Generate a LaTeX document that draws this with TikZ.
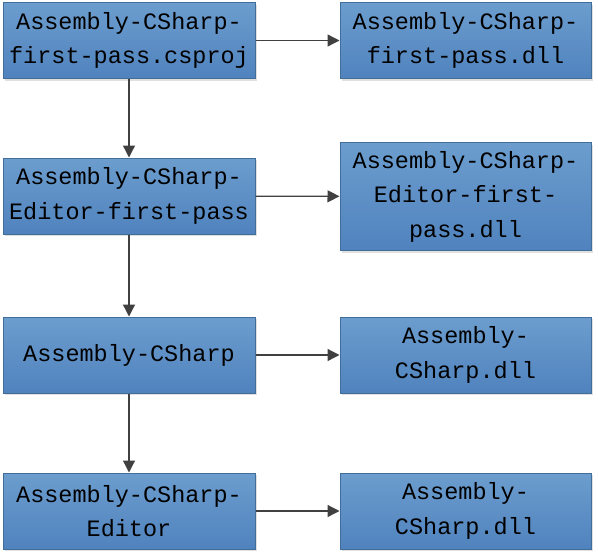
\documentclass[tikz,border=0pt]{standalone}
\usepackage{fontspec}
\setmonofont{Liberation Mono}
\usetikzlibrary{arrows.meta,shadows}
\definecolor{boxtop}{RGB}{108,157,206}
\definecolor{boxbot}{RGB}{80,131,190}
\definecolor{boxline}{RGB}{65,110,152}
\definecolor{arrowc}{RGB}{64,64,64}
\tikzset{
	proj/.style={draw=boxline, line width=1pt, top color=boxtop, bottom color=boxbot,
		drop shadow={shadow xshift=2pt, shadow yshift=-2pt, fill=black!12, opacity=1},
		minimum width=252pt, minimum height=76pt, inner sep=0pt, align=center,
		font=\ttfamily\fontsize{23.5}{34.5}\selectfont},
	dll/.style={proj, minimum width=251pt},
	flow/.style={draw=arrowc, line width=1.3pt, -{Triangle[length=12pt,width=12pt]}},
}
\begin{document}
\begin{tikzpicture}[x=1pt,y=1pt]
	\useasboundingbox (0,0) rectangle (598,-555);

	\node [proj] (fp) at (129,-40.5) {Assembly-CSharp-\\first-pass.csproj};
	\node [proj] (efp) at (129,-196) {Assembly-CSharp-\\Editor-first-pass};
	\node [proj] (cs) at (129,-355) {Assembly-CSharp};
	\node [proj] (ed) at (129,-511) {Assembly-CSharp-\\Editor};

	\node [dll] (fpdll) at (465.5,-40.5) {Assembly-CSharp-\\first-pass.dll};
	\node [dll, minimum height=108pt] (efpdll) at (465.5,-196.5) {Assembly-CSharp-\\Editor-first-\\pass.dll};
	\node [dll] (csdll) at (465.5,-355) {Assembly-\\CSharp.dll};
	\node [dll] (eddll) at (465.5,-511) {Assembly-\\CSharp.dll};

	\draw [flow] (fp) -- (efp);
	\draw [flow] (efp) -- (cs);
	\draw [flow] (cs) -- (ed);

	\draw [flow] (fp) -- (fpdll);
	\draw [flow] (efp) -- (efpdll);
	\draw [flow] (cs) -- (csdll);
	\draw [flow] (ed) -- (eddll);
\end{tikzpicture}
\end{document}
